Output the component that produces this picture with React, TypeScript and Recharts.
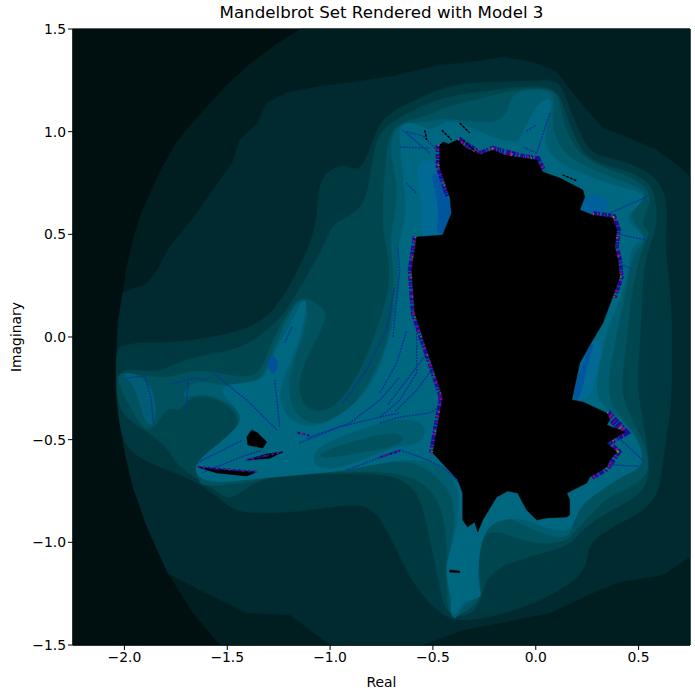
import * as React from "react";
import { ReferenceArea, Scatter, ScatterChart, XAxis, YAxis } from "recharts";

type Pt = [number, number];

const xTicks = [-2, -1.5, -1, -0.5, 0, 0.5];
const yTicks = [-1.5, -1, -0.5, 0, 0.5, 1, 1.5];

const plane: Pt[] = [[-2.25, 1.5], [0.75, 1.5], [0.75, -1.5], [-2.25, -1.5]];

const level1: Pt[] = [[-1.146, 1.5], [-1.27, 1.42], [-1.39, 1.33], [-1.5, 1.23], [-1.6, 1.12], [-1.69, 1.02], [-1.76, 0.93], [-1.83, 0.8], [-1.89, 0.67], [-1.93, 0.57], [-1.96, 0.47], [-1.99, 0.34], [-2.007, 0.215], [-2.03, 0.08], [-2.036, -0.05], [-2.04, -0.146], [-2.04, -0.26], [-2.026, -0.4], [-1.997, -0.565], [-1.958, -0.73], [-1.89, -0.925], [-1.788, -1.15], [-1.667, -1.344], [-1.535, -1.5], [0.75, -1.5], [0.75, 1.5]];

const level2: Pt[] = [[-2.007, 0.215], [-1.89, 0.26], [-1.84, 0.33], [-1.78, 0.44], [-1.65, 0.6], [-1.47, 0.86], [-1.44, 0.96], [-1.355, 1.04], [-1.31, 1.14], [-1.21, 1.19], [-1.06, 1.22], [-0.9, 1.24], [-0.7, 1.27], [-0.467, 1.325], [-0.306, 1.339], [-0.16, 1.364], [-0.015, 1.339], [0.102, 1.29], [0.18, 1.188], [0.248, 1.105], [0.326, 1.018], [0.442, 0.974], [0.588, 0.911], [0.7, 0.828], [0.75, 0.779], [0.75, -1.07], [0.617, -1.159], [0.408, -1.193], [0.277, -1.247], [0.068, -1.344], [-0.175, -1.393], [-0.355, -1.427], [-0.55, -1.5], [-1.0, -1.5], [-1.195, -1.354], [-1.404, -1.344], [-1.633, -1.232], [-1.788, -1.15], [-1.89, -0.925], [-1.958, -0.73], [-1.997, -0.565], [-2.026, -0.4], [-2.04, -0.26], [-2.04, -0.146], [-2.036, -0.05], [-2.03, 0.08]];

const level3: Pt[] = [[-2.036, -0.05], [-2.0, -0.04], [-1.91, -0.025], [-1.79, -0.03], [-1.58, -0.005], [-1.42, 0.034], [-1.28, 0.1], [-1.146, 0.34], [-1.06, 0.54], [-1.06, 0.73], [-1.015, 0.81], [-0.94, 0.84], [-0.9, 0.82], [-0.84, 0.813], [-0.783, 0.993], [-0.725, 1.09], [-0.579, 1.154], [-0.467, 1.213], [-0.306, 1.242], [-0.063, 1.242], [0.083, 1.257], [0.131, 1.218], [0.165, 1.105], [0.229, 0.959], [0.277, 0.886], [0.408, 0.862], [0.54, 0.813], [0.637, 0.716], [0.637, 0.521], [0.627, 0.438], [0.661, 0.18], [0.661, -0.049], [0.661, -0.341], [0.637, -0.453], [0.617, -0.633], [0.588, -0.808], [0.442, -0.891], [0.253, -0.989], [0.253, -1.1], [0.2, -1.183], [0.034, -1.281], [-0.141, -1.344], [-0.258, -1.369], [-0.404, -1.388], [-0.481, -1.33], [-0.579, -1.232], [-0.661, -1.071], [-0.744, -0.891], [-0.831, -0.804], [-1.016, -0.833], [-1.23, -0.857], [-1.44, -0.857], [-1.5, -0.818], [-1.63, -0.711], [-1.79, -0.648], [-1.997, -0.565], [-2.026, -0.4], [-2.04, -0.26], [-2.04, -0.146]];

const level4: Pt[] = [[-2.03, -0.136], [-1.84, -0.185], [-1.73, -0.112], [-1.53, -0.073], [-1.42, -0.054], [-1.258, 0.068], [-1.2, 0.15], [-1.12, 0.28], [-1.015, 0.472], [-0.986, 0.555], [-0.904, 0.584], [-0.807, 0.667], [-0.793, 0.96], [-0.7, 1.05], [-0.6, 1.1], [-0.467, 1.164], [-0.306, 1.188], [-0.09, 1.218], [0.107, 1.227], [0.141, 1.09], [0.2, 0.945], [0.263, 0.852], [0.442, 0.813], [0.569, 0.75], [0.588, 0.618], [0.588, 0.521], [0.52, 0.375], [0.515, 0.083], [0.49, -0.209], [0.506, -0.341], [0.569, -0.662], [0.506, -0.779], [0.311, -0.867], [0.19, -0.974], [0.165, -1.013], [0.034, -1.052], [-0.175, -1.11], [-0.258, -1.197], [-0.27, -1.33], [-0.39, -1.375], [-0.452, -1.315], [-0.481, -1.12], [-0.53, -0.925], [-0.564, -0.745], [-0.71, -0.657], [-1.0, -0.67], [-1.21, -0.657], [-1.39, -0.711], [-1.487, -0.807], [-1.57, -0.734], [-1.68, -0.667], [-1.75, -0.618], [-1.79, -0.536], [-1.88, -0.467], [-2.02, -0.38], [-2.04, -0.26]];

const level5: Pt[] = [[-2.037, -0.161], [-1.843, -0.2], [-1.77, -0.195], [-1.634, -0.151], [-1.473, -0.195], [-1.342, -0.195], [-1.303, -0.063], [-1.21, 0.117], [-1.133, 0.215], [-1.04, 0.141], [-1.011, 0.117], [-1.05, 0.019], [-1.113, -0.097], [-1.162, -0.224], [-1.133, -0.341], [-1.05, -0.37], [-0.968, -0.341], [-0.841, -0.161], [-0.725, 0.166], [-0.7, 0.327], [-0.744, 0.507], [-0.744, 0.633], [-0.725, 0.96], [-0.676, 1.047], [-0.5, 1.08], [-0.467, 1.115], [-0.224, 1.169], [-0.117, 1.203], [0.083, 1.218], [0.117, 1.154], [0.131, 1.042], [0.2, 0.896], [0.311, 0.828], [0.472, 0.779], [0.569, 0.701], [0.54, 0.618], [0.506, 0.536], [0.569, 0.521], [0.506, 0.424], [0.457, 0.166], [0.447, 0], [0.408, -0.243], [0.442, -0.356], [0.52, -0.5], [0.54, -0.565], [0.554, -0.662], [0.472, -0.73], [0.345, -0.779], [0.277, -0.857], [0.18, -0.955], [0.151, -0.998], [-0.015, -1.013], [-0.175, -0.94], [-0.258, -0.955], [-0.287, -1.086], [-0.258, -1.266], [-0.321, -1.33], [-0.404, -1.369], [-0.433, -1.315], [-0.433, -1.149], [-0.433, -0.925], [-0.481, -0.76], [-0.627, -0.648], [-1.0, -0.657], [-1.28, -0.672], [-1.39, -0.711], [-1.62, -0.73], [-1.634, -0.706], [-1.668, -0.623], [-1.57, -0.536], [-1.454, -0.477], [-1.44, -0.404], [-1.488, -0.331], [-1.6, -0.282], [-1.697, -0.297], [-1.73, -0.37], [-1.794, -0.331], [-1.838, -0.428], [-1.891, -0.463], [-1.94, -0.404], [-1.989, -0.307], [-2.032, -0.224]];

const level6: Pt[] = [[-1.278, -0.063], [-1.196, 0.117], [-1.138, 0.2], [-1.1, 0.131], [-1.133, 0], [-1.182, -0.127], [-1.211, -0.243], [-1.182, -0.37], [-1.084, -0.438], [-0.938, -0.404], [-0.793, -0.209], [-0.695, 0.034], [-0.686, 0.327], [-0.71, 0.438], [-0.695, 0.555], [-0.661, 0.716], [-0.71, 0.877], [-0.695, 1.05], [-0.515, 1.042], [-0.467, 1.067], [-0.306, 1.047], [-0.19, 1.042], [-0.136, 1.09], [-0.117, 1.198], [0.019, 1.208], [0.093, 1.189], [0.083, 1.105], [0.078, 0.994], [0.151, 0.877], [0.248, 0.828], [0.394, 0.765], [0.56, 0.71], [0.491, 0.633], [0.442, 0.584], [0.56, 0.472], [0.472, 0.424], [0.442, 0.244], [0.394, 0.019], [0.335, -0.273], [0.394, -0.37], [0.491, -0.487], [0.506, -0.55], [0.525, -0.648], [0.374, -0.682], [0.297, -0.76], [0.18, -0.857], [0.18, -0.975], [0.083, -0.979], [-0.044, -0.925], [-0.175, -0.852], [-0.258, -0.925], [-0.321, -1.071], [-0.262, -1.281], [-0.355, -1.295], [-0.379, -1.374], [-0.418, -1.364], [-0.404, -1.281], [-0.443, -1.149], [-0.384, -0.906], [-0.404, -0.745], [-0.55, -0.614], [-0.71, -0.599], [-0.953, -0.653], [-0.968, -0.589], [-1.23, -0.623], [-1.39, -0.687], [-1.55, -0.711], [-1.634, -0.633], [-1.502, -0.536], [-1.39, -0.453], [-1.425, -0.355], [-1.551, -0.292], [-1.634, -0.273], [-1.731, -0.307], [-1.697, -0.243], [-1.634, -0.209], [-1.502, -0.243], [-1.342, -0.248]];

const wingPatch: Pt[] = [[-2.0, -0.17], [-1.925, -0.185], [-1.852, -0.258], [-1.843, -0.414], [-1.891, -0.443], [-1.925, -0.321], [-1.96, -0.22], [-2.0, -0.2]];

const level7: Pt[] = [[-0.671, 1.042], [-0.598, 1.047], [-0.5, 0.994], [-0.457, 1.057], [-0.355, 1.042], [-0.224, 0.974], [-0.078, 0.935], [-0.07, 1.0], [-0.02, 1.07], [0.0, 1.13], [0.085, 1.18], [0.068, 1.09], [0.034, 0.959], [0.083, 0.862], [0.214, 0.799], [0.394, 0.73], [0.56, 0.7], [0.472, 0.618], [0.423, 0.57], [0.56, 0.472], [0.457, 0.458], [0.457, 0.326], [0.394, 0.146], [0.345, 0.034], [0.311, -0.127], [0.277, -0.307], [0.408, -0.39], [0.506, -0.502], [0.53, -0.633], [0.442, -0.662], [0.297, -0.76], [0.2, -0.828], [0.18, -0.965], [0.034, -0.925], [-0.063, -0.877], [-0.209, -0.891], [-0.272, -0.989], [-0.287, -1.198], [-0.25, -1.281], [-0.355, -1.271], [-0.394, -1.374], [-0.418, -1.33], [-0.404, -1.266], [-0.452, -1.135], [-0.384, -0.955], [-0.355, -0.73], [-0.467, -0.614], [-0.598, -0.589], [-0.758, -0.614], [-0.953, -0.657], [-1.357, -0.687], [-1.536, -0.711], [-1.634, -0.696], [-1.668, -0.633], [-1.6, -0.565], [-1.439, -0.438], [-1.425, -0.37], [-1.57, -0.243], [-1.425, -0.224], [-1.308, -0.209], [-1.279, -0.078], [-1.196, 0.049], [-1.133, 0.19], [-1.109, 0.176], [-1.148, -0.029], [-1.23, -0.195], [-1.259, -0.321], [-1.162, -0.453], [-0.987, -0.419], [-0.773, -0.243], [-0.676, 0.117], [-0.661, 0.326], [-0.676, 0.438], [-0.627, 0.57], [-0.637, 0.716], [-0.652, 0.877]];

const paleOuter: Pt[] = [[-1.084, -0.536], [-0.856, -0.453], [-0.661, -0.39], [-0.515, -0.419], [-0.564, -0.536], [-0.661, -0.516], [-0.841, -0.599], [-0.987, -0.648], [-1.084, -0.633]];
const paleInner: Pt[] = [[-1.06, -0.56], [-0.85, -0.5], [-0.7, -0.46], [-0.62, -0.49], [-0.7, -0.54], [-0.85, -0.56], [-1.05, -0.6]];

const lobeGlowOuter: Pt[] = [[-0.6, 0.85], [-0.5, 0.88], [-0.42, 0.75], [-0.39, 0.63], [-0.42, 0.5], [-0.58, 0.46], [-0.54, 0.63]];
const lobeGlow: Pt[] = [[-0.52, 0.8], [-0.47, 0.8], [-0.42, 0.66], [-0.4, 0.6], [-0.44, 0.5], [-0.49, 0.5], [-0.46, 0.63]];
const notchGlow: Pt[] = [[0.248, 0.701], [0.214, 0.633], [0.229, 0.584], [0.311, 0.594], [0.374, 0.653], [0.311, 0.682]];
const flankGlowOuter: Pt[] = [[0.263, 0.0], [0.33, -0.015], [0.3, -0.146], [0.27, -0.307], [0.175, -0.317], [0.214, -0.161]];
const flankGlow: Pt[] = [[0.27, -0.03], [0.285, -0.03], [0.245, -0.146], [0.215, -0.31], [0.175, -0.317], [0.214, -0.161]];
const armBall: Pt[] = [[-1.293, -0.078], [-1.245, -0.112], [-1.269, -0.195], [-1.308, -0.146]];

const body: Pt[] = [[-0.467, 0.935], [-0.45, 0.95], [-0.425, 0.94], [-0.38, 0.96], [-0.34, 0.92], [-0.272, 0.886], [-0.209, 0.911], [-0.15, 0.885], [-0.063, 0.872], [0.005, 0.862], [0.034, 0.804], [0.117, 0.774], [0.229, 0.716], [0.238, 0.682], [0.214, 0.619], [0.277, 0.594], [0.374, 0.58], [0.394, 0.521], [0.384, 0.438], [0.4, 0.375], [0.408, 0.292], [0.374, 0.195], [0.326, 0.068], [0.277, -0.015], [0.214, -0.127], [0.175, -0.307], [0.229, -0.317], [0.345, -0.37], [0.36, -0.404], [0.345, -0.428], [0.433, -0.463], [0.345, -0.516], [0.394, -0.56], [0.36, -0.599], [0.345, -0.633], [0.263, -0.682], [0.248, -0.711], [0.151, -0.76], [0.165, -0.794], [0.165, -0.867], [0.151, -0.877], [0.054, -0.881], [0.005, -0.891], [-0.044, -0.843], [-0.088, -0.76], [-0.136, -0.75], [-0.19, -0.779], [-0.258, -0.891], [-0.282, -0.95], [-0.297, -0.901], [-0.331, -0.925], [-0.355, -0.891], [-0.355, -0.76], [-0.379, -0.696], [-0.5, -0.565], [-0.452, -0.292], [-0.491, -0.175], [-0.55, 0], [-0.588, 0.117], [-0.603, 0.326], [-0.579, 0.487], [-0.452, 0.497], [-0.409, 0.604], [-0.418, 0.682], [-0.467, 0.828]];

const blobA: Pt[] = [[-1.405, -0.487], [-1.381, -0.453], [-1.352, -0.468], [-1.308, -0.511], [-1.327, -0.541], [-1.4, -0.526]];
const sliverA: Pt[] = [[-1.643, -0.633], [-1.502, -0.648], [-1.357, -0.657], [-1.405, -0.677], [-1.551, -0.662]];
const sliverB: Pt[] = [[-1.405, -0.599], [-1.308, -0.57], [-1.23, -0.56], [-1.293, -0.59]];
const tailSpot: Pt[] = [[-0.418, -1.135], [-0.37, -1.14], [-0.37, -1.148], [-0.418, -1.145]];

const wisps: Pt[][] = [
  [[-0.54, 1.008], [-0.53, 0.96]],
  [[-0.457, 1.008], [-0.409, 0.96]],
  [[-0.37, 1.042], [-0.321, 0.994]],
  [[-0.355, 0.959], [-0.258, 0.872]],
  [[0.13, 0.79], [0.2, 0.76]],
];

const streaks: Pt[][] = [
  [[-0.695, 0], [-0.676, 0.18], [-0.661, 0.327], [-0.671, 0.438]],
  [[-0.758, -0.39], [-0.661, -0.307], [-0.579, -0.175], [-0.579, 0.034]],
  [[-0.758, -0.273], [-0.676, -0.127], [-0.627, 0.034]],
  [[-0.72, -0.33], [-0.62, -0.2], [-0.53, -0.08]],
  [[-0.68, -0.36], [-0.58, -0.26], [-0.5, -0.15]],
  [[-0.758, -0.419], [-0.661, -0.39], [-0.515, -0.37], [-0.467, -0.341]],
  [[-0.758, -0.589], [-0.661, -0.55], [-0.55, -0.589], [-0.452, -0.633], [-0.37, -0.711]],
  [[-1.113, -0.492], [-0.904, -0.419], [-0.758, -0.307], [-0.661, -0.195]],
  [[-1.148, -0.516], [-0.953, -0.438], [-0.758, -0.39], [-0.661, -0.37]],
  [[-0.919, -0.648], [-0.661, -0.55]],
  [[-0.938, -0.321], [-0.822, -0.161], [-0.725, 0.034], [-0.686, 0.244]],
  [[-1.186, 0.049], [-1.22, -0.029]],
  [[-1.57, -0.175], [-1.405, -0.307], [-1.259, -0.453]],
  [[-1.269, -0.209], [-1.245, -0.438]],
  [[-1.648, -0.614], [-1.425, -0.502]],
  [[-1.62, -0.66], [-1.42, -0.58], [-1.33, -0.55]],
  [[-1.99, -0.2], [-1.9, -0.19], [-1.87, -0.3], [-1.86, -0.42]],
  [[-1.78, -0.23], [-1.66, -0.2], [-1.6, -0.21]],
  [[-1.69, -0.22], [-1.7, -0.36]],
  [[-0.647, 1.008], [-0.515, 0.896]],
  [[-0.661, 0.925], [-0.515, 0.92]],
  [[-0.63, 1.0], [-0.55, 0.98], [-0.47, 0.9]],
  [[-0.63, 0.75], [-0.58, 0.7]],
  [[0.068, 1.09], [0.005, 0.896], [-0.063, 0.925]],
  [[0.0, 1.03], [-0.05, 1.0]],
  [[0.54, 0.682], [0.36, 0.604]],
  [[0.374, 0.506], [0.54, 0.472]],
  [[0.4, 0.36], [0.47, 0.33]],
  [[0.36, -0.45], [0.52, -0.6]],
  [[0.33, -0.62], [0.5, -0.63]],
];

const fringes: Pt[][] = [
  [[-0.579, 0.487], [-0.603, 0.326], [-0.588, 0.117], [-0.55, 0], [-0.491, -0.175], [-0.452, -0.292], [-0.5, -0.565]],
  [[-0.515, -0.05], [-0.47, -0.17], [-0.45, -0.28], [-0.455, -0.4]],
  [[-0.38, 0.96], [-0.272, 0.886], [-0.209, 0.911], [-0.063, 0.872], [0.005, 0.862], [0.034, 0.804]],
  [[0.277, 0.594], [0.374, 0.58], [0.394, 0.521], [0.384, 0.438], [0.4, 0.375], [0.408, 0.292], [0.374, 0.195]],
  [[0.345, -0.37], [0.433, -0.463], [0.345, -0.516], [0.394, -0.56], [0.345, -0.633], [0.263, -0.682]],
  [[-0.467, 0.935], [-0.467, 0.828], [-0.418, 0.682]],
];

const wingFringes: Pt[][] = [
  [[-1.643, -0.633], [-1.357, -0.657]],
  [[-1.405, -0.599], [-1.23, -0.56]],
  [[-1.16, -0.465], [-1.1, -0.48]],
  [[-0.758, -0.585], [-0.66, -0.555]],
];

const toRows = (pts: Pt[]) => pts.map(([x, y]) => ({ x, y }));
const noDot = () => <g />;

const area = (key: string, pts: Pt[], fill: string) => (
  <Scatter
    key={key}
    data={toRows([...pts, pts[0]])}
    shape={noDot}
    line={{ fill, stroke: fill, strokeWidth: 0.5 }}
    lineJointType="linear"
    isAnimationActive={false}
  />
);

// softer outline for the colour bands, corners get rounded off
const band = (key: string, pts: Pt[], fill: string) => (
  <Scatter
    key={key}
    data={toRows(pts)}
    shape={noDot}
    line={{ fill, stroke: fill, strokeWidth: 0.5 }}
    lineJointType="basisClosed"
    isAnimationActive={false}
  />
);

const trace = (key: string, pts: Pt[], stroke: string, strokeWidth: number, strokeDasharray?: string) => (
  <Scatter
    key={key}
    data={toRows(pts)}
    shape={noDot}
    line={{ fill: "none", stroke, strokeWidth, strokeDasharray }}
    lineJointType="linear"
    isAnimationActive={false}
  />
);

const fmt = (v: number) => v.toFixed(1).replace("-", "\u2212");
const font = "'DejaVu Sans'";
const tick = { fill: "#000", fontSize: 13.9, fontFamily: font };

export default function App() {
  return (
    <div style={{ position: "absolute", left: 0, top: 0, width: 695, height: 696, fontFamily: font }}>
      <div style={{ position: "absolute", left: 73, width: 617, top: 3, textAlign: "center", fontSize: 16.67, color: "#000" }}>
        Mandelbrot Set Rendered with Model 3
      </div>
      <ScatterChart width={695} height={696} margin={{ top: 29, right: 5, bottom: 0, left: 0 }}>
        <XAxis
          type="number"
          dataKey="x"
          domain={[-2.25, 0.75]}
          ticks={xTicks}
          tickFormatter={fmt}
          tick={tick}
          tickSize={5}
          tickLine={{ stroke: "#000" }}
          axisLine={{ stroke: "#000" }}
          height={51}
          label={{ value: "Real", position: "insideBottom", offset: 9, fill: "#000", fontSize: 13.9, fontFamily: font }}
        />
        <YAxis
          type="number"
          dataKey="y"
          domain={[-1.5, 1.5]}
          ticks={yTicks}
          tickFormatter={fmt}
          tick={tick}
          tickSize={5}
          tickLine={{ stroke: "#000" }}
          axisLine={{ stroke: "#000" }}
          width={73}
          label={{ value: "Imaginary", angle: -90, position: "insideLeft", offset: 16, fill: "#000", fontSize: 13.9, fontFamily: font, style: { textAnchor: "middle" } }}
        />
        {area("plane", plane, "#000f0f")}
        {area("l1", level1, "#001d20")}
        {area("l2", level2, "#002a2f")}
        {band("l3", level3, "#003840")}
        {band("l4", level4, "#00464f")}
        {band("l5", level5, "#00525e")}
        {band("wing", wingPatch, "#005d75")}
        {band("l6", level6, "#005d6f")}
        {band("l7", level7, "#006780")}
        {band("paleO", paleOuter, "#005d6f")}
        {band("paleI", paleInner, "#00525e")}
        {band("lobeO", lobeGlowOuter, "#006a94")}
        {band("lobe", lobeGlow, "#00559f")}
        {band("notch", notchGlow, "#00609c")}
        {band("flankO", flankGlowOuter, "#006a94")}
        {band("flank", flankGlow, "#00559f")}
        {band("ball", armBall, "#00509a")}
        {streaks.map((s, i) => trace(`s${i}`, s, "#0a3296", 1.3, "2 1"))}
        {fringes.map((s, i) => trace(`fb${i}`, s, "#14109a", 8, "4 1 2 2 5 1"))}
        {fringes.map((s, i) => trace(`fm${i}`, s, "#a00078", 6, "1 3 2 5 1 6"))}
        {fringes.map((s, i) => trace(`fg${i}`, s, "#6a9a10", 4, "1 19"))}
        {area("body", body, "#000000")}
        {area("blobA", blobA, "#000000")}
        {area("sliverA", sliverA, "#000000")}
        {area("sliverB", sliverB, "#000000")}
        {area("tail", tailSpot, "#000000")}
        {wisps.map((s, i) => trace(`w${i}`, s, "#000000", 1.4, "3 1"))}
        {wingFringes.map((s, i) => trace(`gb${i}`, s, "#14109a", 2, "3 2"))}
        {wingFringes.map((s, i) => trace(`gm${i}`, s, "#a00078", 1.5, "1 4 2 6"))}
        <ReferenceArea x1={-2.25} x2={0.75} y1={-1.5} y2={1.5} fill="none" stroke="#000" strokeWidth={1} />
      </ScatterChart>
    </div>
  );
}
